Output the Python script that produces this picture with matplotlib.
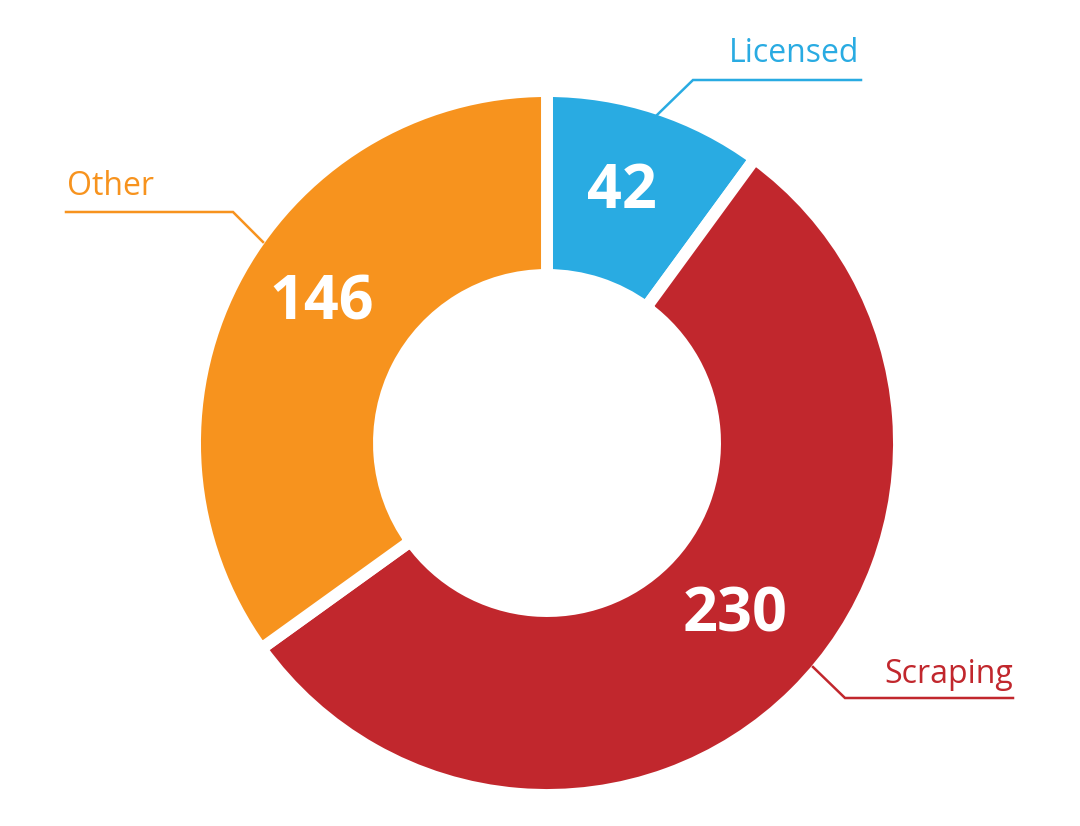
import matplotlib.pyplot as plt

labels = ['Licensed', 'Scraping', 'Other']
values = [42, 230, 146]
colors = ['#29ABE2', '#C1272D', '#F7931E']

H = 826
cx, cy = 547, H - 443

fig = plt.figure(figsize=(10.8, 8.26), dpi=100)
ax = fig.add_axes([0, 0, 1, 1])

ax.pie(values, colors=colors, startangle=90, counterclock=False,
       center=(cx, cy), radius=352, frame=True,
       wedgeprops=dict(width=184, edgecolor='white', linewidth=8.6))

# value labels (pixel positions, y from top)
num_pos = [(622, 192), (735, 616), (322, 304)]
for (x, y), v in zip(num_pos, values):
    ax.text(x, H - y, str(v), color='white', fontsize=44, fontweight='bold',
            family='Open Sans', ha='center', va='center')

# leader lines and category names
leaders = [
    [(657, 115), (693, 80), (861, 80)],
    [(813, 667), (845, 698), (1013, 698)],
    [(263, 242), (233, 212), (66, 212)],
]
name_pos = [(859, 62, 'right'), (1013, 683, 'right'), (67, 195, 'left')]
for pts, (x, y, ha), lab, c in zip(leaders, name_pos, labels, colors):
    ax.plot([p[0] for p in pts], [H - p[1] for p in pts], color=c, lw=1.8,
            solid_joinstyle='miter')
    ax.text(x, H - y, lab, color=c, fontsize=23, family='Open Sans',
            fontweight='medium', ha=ha, va='baseline')

ax.set_xlim(0, 1080)
ax.set_ylim(0, H)
ax.set_aspect('auto')
ax.axis('off')

fig.savefig('out.png', dpi=100, facecolor='white')
